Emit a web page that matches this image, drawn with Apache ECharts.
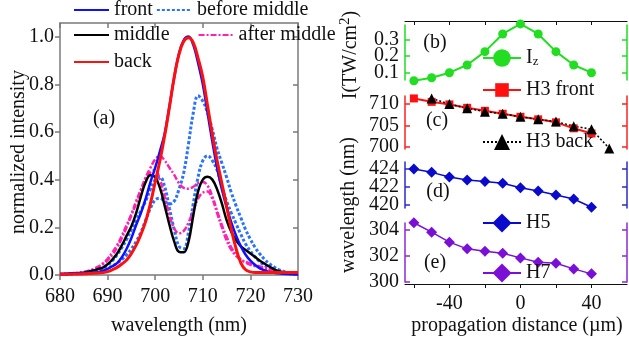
<!DOCTYPE html>
<html><head><meta charset="utf-8">
<script src="https://cdn.jsdelivr.net/npm/echarts@6/dist/echarts.min.js"></script>
<style>html,body{margin:0;padding:0;background:#fff}#c{width:629px;height:348px}</style>
</head><body><div id="c"></div>
<script>
// ---------- panel (a) data ----------
const wavelength = [680,681,682,683,684,685,686,687,688,689,690,691,692,693,694,695,696,697,698,699,700,701,702,703,704,705,706,707,708,709,710,711,712,713,714,715,716,717,718,719,720,721,722,723,724,725,726,727,728,729,730];
const front = [0.004,0.004,0.005,0.006,0.007,0.008,0.009,0.010,0.012,0.018,0.026,0.037,0.050,0.075,0.110,0.155,0.210,0.260,0.320,0.390,0.450,0.520,0.595,0.710,0.830,0.930,0.985,1.000,0.965,0.890,0.800,0.680,0.560,0.450,0.360,0.285,0.220,0.165,0.120,0.085,0.060,0.042,0.028,0.019,0.013,0.009,0.007,0.005,0.004,0.003,0.003];
const back = [0.003,0.003,0.003,0.004,0.004,0.005,0.006,0.007,0.008,0.010,0.014,0.022,0.032,0.046,0.063,0.090,0.125,0.170,0.225,0.300,0.390,0.480,0.585,0.705,0.830,0.925,0.980,0.995,0.975,0.910,0.830,0.710,0.590,0.480,0.385,0.290,0.190,0.110,0.050,0.022,0.013,0.010,0.010,0.010,0.010,0.010,0.010,0.010,0.010,0.010,0.010];
const middle = [0.003,0.004,0.005,0.006,0.008,0.010,0.014,0.019,0.025,0.031,0.045,0.065,0.090,0.125,0.165,0.205,0.260,0.330,0.390,0.418,0.410,0.365,0.290,0.210,0.140,0.097,0.095,0.140,0.250,0.350,0.400,0.412,0.400,0.360,0.300,0.230,0.180,0.145,0.120,0.105,0.090,0.075,0.060,0.047,0.035,0.024,0.016,0.010,0.007,0.005,0.004];
const afterMiddle1 = [0.004,0.005,0.006,0.008,0.010,0.013,0.018,0.025,0.035,0.048,0.068,0.095,0.125,0.165,0.210,0.255,0.310,0.360,0.410,0.450,0.485,0.500,0.480,0.450,0.420,0.385,0.365,0.362,0.370,0.385,0.390,0.375,0.330,0.270,0.210,0.160,0.115,0.085,0.065,0.052,0.043,0.037,0.032,0.027,0.022,0.017,0.012,0.009,0.007,0.005,0.004];
const afterMiddle2 = [0.004,0.005,0.006,0.007,0.009,0.012,0.016,0.022,0.032,0.045,0.062,0.085,0.115,0.155,0.200,0.250,0.300,0.350,0.400,0.430,0.440,0.400,0.330,0.250,0.195,0.175,0.185,0.220,0.270,0.320,0.345,0.350,0.320,0.260,0.200,0.145,0.105,0.080,0.065,0.055,0.048,0.042,0.036,0.030,0.024,0.018,0.013,0.009,0.007,0.005,0.004];
const beforeMiddle1 = [0.003,0.003,0.004,0.005,0.006,0.007,0.009,0.012,0.016,0.021,0.028,0.038,0.050,0.065,0.085,0.110,0.140,0.180,0.230,0.280,0.315,0.322,0.308,0.298,0.310,0.360,0.430,0.550,0.680,0.752,0.730,0.680,0.610,0.530,0.470,0.410,0.345,0.290,0.240,0.190,0.150,0.115,0.088,0.065,0.047,0.033,0.022,0.015,0.010,0.007,0.005];
const beforeMiddle2 = [0.003,0.004,0.005,0.006,0.007,0.009,0.012,0.016,0.022,0.030,0.042,0.060,0.085,0.115,0.150,0.190,0.230,0.270,0.310,0.360,0.400,0.410,0.370,0.280,0.190,0.120,0.110,0.180,0.300,0.410,0.480,0.500,0.480,0.440,0.370,0.310,0.260,0.215,0.170,0.130,0.100,0.075,0.055,0.040,0.028,0.020,0.014,0.010,0.007,0.005,0.004];
const wlTicks = [680,690,700,710,720,730];
const intensityTicks = [0,0.2,0.4,0.6,0.8,1.0];

// ---------- panels (b)-(e) data ----------
const distance = [-60,-50,-40,-30,-20,-10,0,10,20,30,40];
const Iz = [0.052,0.070,0.100,0.146,0.226,0.332,0.392,0.332,0.226,0.146,0.100];
const h3Front = [711.3,710.5,709.9,709.1,708.4,707.7,707.0,706.4,705.7,704.3,703.1];
const h3BackDistance = [-50,-40,-30,-20,-10,0,10,20,30,40,50];
const h3Back = [711.3,710.0,709.0,708.2,707.7,707.0,706.4,705.9,704.8,704.1,699.6];
const h5 = [423.93,423.56,423.05,422.73,422.55,422.36,421.89,421.53,421.09,420.65,419.75];
const h7 = [304.5,303.78,303.02,302.51,302.33,302.18,301.82,301.49,301.41,300.98,300.6];
const distTicks = [-60,-40,-20,0,20,40];
const distLabels = [-40,0,40];
const izTicks = [0.1,0.2,0.3];
const h3Ticks = [700,705,710];
const h5Ticks = [420,422,424];
const h7Ticks = [300,302,304];

const FONT = "'Liberation Serif', 'DejaVu Serif', serif";
const zip = (xs, ys) => xs.map((x, i) => [x, ys[i]]);
const chart = echarts.init(document.getElementById('c'));

const GRAY = '#7a7a7a';
const fmt = grid => grid === 0 ? (v => v.toFixed(1)) : (v => String(v));
function yAx(grid, min, max, color, ticks, pos, labelValues) {
  return {
    type: 'value', gridIndex: grid, min, max, position: pos,
    axisLine: { show: true, onZero: false, lineStyle: { color, width: 1.5 } },
    axisTick: { show: true, inside: pos === 'right' || grid > 0, length: 5, customValues: ticks, lineStyle: { color, width: 1.5 } },
    axisLabel: labelValues ? { show: true, customValues: labelValues, hideOverlap: false, showMinLabel: true, showMaxLabel: true,
      color: '#111', fontFamily: FONT, fontSize: 20, lineHeight: 12, margin: 6, formatter: fmt(grid) } : { show: false },
    splitLine: { show: false }
  };
}
// label-only companion axis (for labels that sit too close to their neighbours)
function yLab(grid, min, max, labelValues) {
  return {
    type: 'value', gridIndex: grid, min, max, position: 'left',
    axisLine: { show: false, onZero: false }, axisTick: { show: false },
    axisLabel: { show: true, customValues: labelValues, showMinLabel: true, showMaxLabel: true,
      color: '#111', fontFamily: FONT, fontSize: 20, lineHeight: 12, margin: 6, formatter: fmt(grid) },
    splitLine: { show: false }
  };
}

const lineSeries = (name, data, color, width, type) => ({
  name, type: 'line', xAxisIndex: 0, yAxisIndex: 0, data: zip(wavelength, data),
  symbol: 'none', smooth: 0.4, lineStyle: { color, width, type }, itemStyle: { color }, z: 3
});

const legendText = { fontFamily: FONT, fontSize: 20, color: '#111', lineHeight: 20,
  rich: { a: { fontFamily: FONT, fontSize: 20, color: '#111' }, s: { fontFamily: FONT, fontSize: 13, color: '#111', verticalAlign: 'bottom', padding: [8,0,0,0] } } };
function lg(data, left, top, gap, ih, iw, hideSym) {
  const o = { data, left, top, orient: 'horizontal', padding: 0, itemGap: gap, itemWidth: iw, itemHeight: ih,
    textStyle: legendText, selectedMode: false,
    formatter: n => n === 'Iz' ? '{a|I}{s|z}' : n };
  if (hideSym) o.itemStyle = { opacity: 0 };
  return o;
}

const option = {
  animation: false,
  backgroundColor: '#fff',
  textStyle: { fontFamily: FONT },
  grid: [
    { left: 60, right: 331, top: 23, bottom: 73 },
    { left: 405, right: 2, top: 25, height: 55 },
    { left: 405, right: 2, top: 96, height: 53 },
    { left: 405, right: 2, top: 162, height: 46 },
    { left: 405, right: 2, top: 223, height: 59 }
  ],
  xAxis: [
    { type: 'value', gridIndex: 0, min: 680, max: 730, position: 'bottom',
      axisLine: { onZero: false, lineStyle: { color: GRAY, width: 1.5 } },
      axisTick: { inside: false, length: 5, customValues: wlTicks, lineStyle: { color: GRAY, width: 1.5 } },
      axisLabel: { customValues: wlTicks, showMinLabel: true, showMaxLabel: true, color: '#111', fontFamily: FONT, fontSize: 20, margin: 12 },
      splitLine: { show: false } },
    { type: 'value', gridIndex: 0, min: 680, max: 730, position: 'top',
      axisLine: { onZero: false, lineStyle: { color: GRAY, width: 1.5 } },
      axisTick: { inside: true, length: 5, customValues: wlTicks, lineStyle: { color: GRAY, width: 1.5 } },
      axisLabel: { show: false }, splitLine: { show: false } },
    { type: 'value', gridIndex: 1, min: -65, max: 60, position: 'top', offset: 4,
      axisLine: { onZero: false, lineStyle: { color: '#111', width: 1.2 } },
      axisTick: { inside: true, length: 4, customValues: distTicks, lineStyle: { color: '#111' } },
      axisLabel: { show: false }, splitLine: { show: false } },
    { type: 'value', gridIndex: 2, min: -65, max: 60, show: false },
    { type: 'value', gridIndex: 3, min: -65, max: 60, show: false },
    { type: 'value', gridIndex: 4, min: -65, max: 60, position: 'bottom', offset: 2,
      axisLine: { onZero: false, lineStyle: { color: '#111', width: 1.2 } },
      axisTick: { inside: false, length: 4, customValues: distTicks, lineStyle: { color: '#111' } },
      axisLabel: { customValues: distLabels, color: '#111', fontFamily: FONT, fontSize: 20, margin: 10 },
      splitLine: { show: false } }
  ],
  yAxis: [
    yAx(0, 0, 1.057, GRAY, intensityTicks, 'left', intensityTicks),
    yAx(0, 0, 1.057, GRAY, intensityTicks, 'right', null),
    yAx(1, 0.0563, 0.3856, '#22dd22', izTicks, 'left', [izTicks[0], izTicks[2]]),
    yAx(1, 0.0563, 0.3856, '#22dd22', izTicks, 'right', null),
    yAx(2, 699.46, 711.87, '#ff2020', h3Ticks, 'left', h3Ticks),
    yAx(2, 699.46, 711.87, '#ff2020', h3Ticks, 'right', null),
    yAx(3, 419.67, 424.69, '#2a2acc', h5Ticks, 'left', [h5Ticks[0], h5Ticks[2]]),
    yAx(3, 419.67, 424.69, '#2a2acc', h5Ticks, 'right', null),
    yAx(4, 299.98, 304.48, '#8a2ad6', h7Ticks, 'left', h7Ticks),
    yAx(4, 299.98, 304.48, '#8a2ad6', h7Ticks, 'right', null),
    yLab(1, 0.0563, 0.3856, [izTicks[1]]),
    yLab(3, 419.67, 424.69, [h5Ticks[1]])
  ],
  legend: [
    lg(['front', 'before middle'], 73, 0, 3, 14, 35, true),
    lg(['middle', 'after middle'], 73, 25, 28, 14, 35, true),
    lg(['back'], 73, 52, 3, 14, 35, true),
    lg(['Iz'], 482, 48, 3, 22, 38, false),
    lg(['H3 front'], 482, 80, 3, 17, 38, false),
    lg(['H3 back'], 482, 132, 3, 20, 38, false),
    lg(['H5'], 482, 213, 3, 24, 38, false),
    lg(['H7'], 482, 263, 3, 24, 38, false)
  ],
  series: [
    lineSeries('before middle', beforeMiddle1, '#2a72ff', 3, [3, 2]),
    lineSeries('before middle', beforeMiddle2, '#2a72ff', 3, [3, 2]),
    lineSeries('after middle', afterMiddle1, '#ff22b0', 2.5, [6, 2, 2, 2]),
    lineSeries('after middle', afterMiddle2, '#ff22b0', 2.5, [6, 2, 2, 2]),
    lineSeries('middle', middle, '#000000', 2.5, 'solid'),
    lineSeries('front', front, '#1010ff', 2.5, 'solid'),
    lineSeries('back', back, '#ff1010', 3, 'solid'),
    { name: 'Iz', type: 'line', xAxisIndex: 2, yAxisIndex: 2, data: zip(distance, Iz), clip: false,
      symbol: 'circle', symbolSize: 9, lineStyle: { color: '#22dd22', width: 2 }, itemStyle: { color: '#22dd22' } },
    { name: 'H3 front', type: 'line', xAxisIndex: 3, yAxisIndex: 4, data: zip(distance, h3Front), clip: false,
      symbol: 'rect', symbolSize: 8, lineStyle: { color: '#ff1010', width: 2 }, itemStyle: { color: '#ff1010' } },
    { name: 'H3 back', type: 'line', xAxisIndex: 3, yAxisIndex: 4, data: zip(h3BackDistance, h3Back), clip: false,
      symbol: 'triangle', symbolSize: 10, lineStyle: { color: '#000', width: 1.5, type: [2, 2] }, itemStyle: { color: '#000' } },
    { name: 'H5', type: 'line', xAxisIndex: 4, yAxisIndex: 6, data: zip(distance, h5), clip: false,
      symbol: 'diamond', symbolSize: 11, lineStyle: { color: '#0a0acc', width: 1.5 }, itemStyle: { color: '#0a0acc' } },
    { name: 'H7', type: 'line', xAxisIndex: 5, yAxisIndex: 8, data: zip(distance, h7), clip: false,
      symbol: 'diamond', symbolSize: 11, lineStyle: { color: '#7a10d6', width: 1.5 }, itemStyle: { color: '#7a10d6' } }
  ],
  graphic: [
    { type: 'text', x: 104, y: 119, style: { text: '(a)', font: '20px ' + FONT, fill: '#111', textAlign: 'center', textVerticalAlign: 'middle' } },
    { type: 'text', x: 435, y: 43, style: { text: '(b)', font: '20px ' + FONT, fill: '#111', textAlign: 'center', textVerticalAlign: 'middle' } },
    { type: 'text', x: 437, y: 121, style: { text: '(c)', font: '20px ' + FONT, fill: '#111', textAlign: 'center', textVerticalAlign: 'middle' } },
    { type: 'text', x: 438, y: 192, style: { text: '(d)', font: '20px ' + FONT, fill: '#111', textAlign: 'center', textVerticalAlign: 'middle' } },
    { type: 'text', x: 435, y: 263, style: { text: '(e)', font: '20px ' + FONT, fill: '#111', textAlign: 'center', textVerticalAlign: 'middle' } },
    { type: 'text', x: 179, y: 326, style: { text: 'wavelength (nm)', font: '20px ' + FONT, fill: '#111', textAlign: 'center', textVerticalAlign: 'middle' } },
    { type: 'text', x: 517, y: 326, style: { text: 'propagation distance (µm)', font: '20px ' + FONT, fill: '#111', textAlign: 'center', textVerticalAlign: 'middle' } },
    { type: 'text', x: 19, y: 152, rotation: Math.PI / 2, style: { text: 'normalized intensity', font: '20px ' + FONT, fill: '#111', textAlign: 'center', textVerticalAlign: 'middle' } },
    { type: 'text', x: 349, y: 205, rotation: Math.PI / 2, style: { text: 'wavelength (nm)', font: '20px ' + FONT, fill: '#111', textAlign: 'center', textVerticalAlign: 'middle' } },
    { type: 'text', x: 351, y: 55, rotation: Math.PI / 2, style: { text: '{a|I(TW/cm}{s|2}{a|)}', textAlign: 'center', textVerticalAlign: 'middle',
      rich: { a: { fontFamily: FONT, fontSize: 20, fill: '#111', lineHeight: 26 }, s: { fontFamily: FONT, fontSize: 15, fill: '#111', verticalAlign: 'top', lineHeight: 26 } } } }
  ]
};
chart.setOption(option);
</script>
</body></html>
